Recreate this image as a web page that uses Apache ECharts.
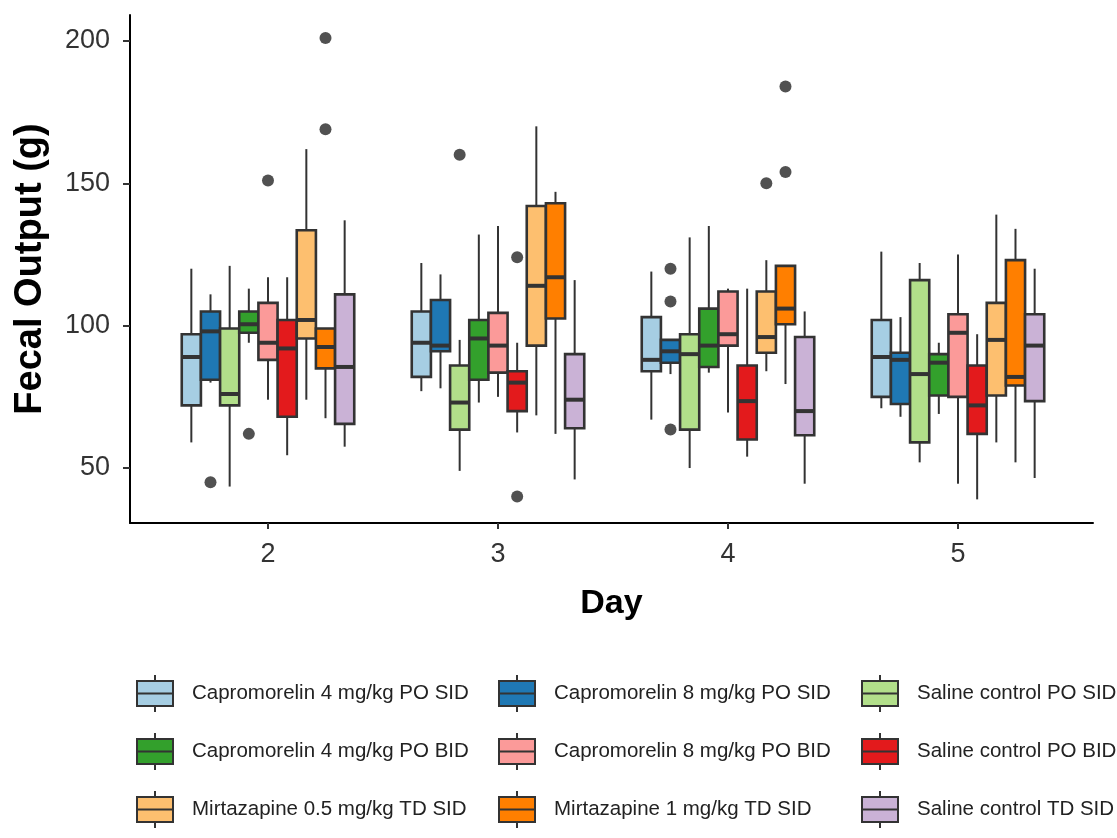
<!DOCTYPE html>
<html>
<head>
<meta charset="utf-8">
<script src="https://cdn.jsdelivr.net/npm/echarts@6/dist/echarts.min.js"></script>
<style>
  html, body { margin: 0; padding: 0; background: #fff; }
  #chart { width: 1117px; height: 838px; }
</style>
</head>
<body>
<div id="chart"></div>
<script>
// ---- Data ----
const days = [2, 3, 4, 5];
const yTicks = [50, 100, 150, 200];

const groupNames = [
  'Capromorelin 4 mg/kg PO SID',
  'Capromorelin 8 mg/kg PO SID',
  'Saline control PO SID',
  'Capromorelin 4 mg/kg PO BID',
  'Capromorelin 8 mg/kg PO BID',
  'Saline control PO BID',
  'Mirtazapine 0.5 mg/kg TD SID',
  'Mirtazapine 1 mg/kg TD SID',
  'Saline control TD SID'
];
const groupColors = ['#A6CEE3', '#1F78B4', '#B2DF8A', '#33A02C', '#FB9A99', '#E31A1C', '#FDBF6F', '#FF7F00', '#CAB2D6'];

// each row: [lower whisker, Q1, median, Q3, upper whisker] for day 2, 3, 4, 5
const capro4SID = [[59, 72, 89, 97, 120], [77, 82, 94, 105, 122], [67, 84, 88, 103, 119], [71, 75, 89, 102, 126]];
const capro8SID = [[80, 81, 98, 105, 111], [78, 91, 93, 109, 118], [83, 87, 91, 95, 95], [68, 72.5, 88, 90.5, 103]];
const salinePOSID = [[43.5, 72, 76, 99, 121], [49, 63.5, 73, 86, 95], [50, 63.5, 90, 97, 131], [52, 59, 83, 116, 122]];
const capro4BID = [[94, 97.5, 100.5, 105, 113], [73, 81, 95.5, 102, 132], [83.5, 85.5, 93, 106, 135], [69, 75.5, 87, 90, 94]];
const capro8BID = [[74, 88, 94, 108, 117], [75, 83.5, 93, 104.5, 135], [69.5, 93, 97, 112, 113], [44.5, 75, 97.5, 104, 125]];
const salinePOBID = [[54.5, 68, 92, 102, 117], [62.5, 70, 80, 84, 94], [54, 60, 73.5, 86, 113], [39, 62, 72, 86, 97]];
const mirt05 = [[74, 95.5, 102, 133.5, 162], [68.5, 93, 114, 142, 170], [84, 90.5, 96, 112, 123], [59, 75.5, 95, 108, 139]];
const mirt1 = [[67.5, 85, 92.5, 99, 99], [62, 102.5, 117, 143, 147], [79.5, 100.5, 106, 121, 121], [52, 79, 82, 123, 134]];
const salineTD = [[57.5, 65.5, 85.5, 111, 137], [46, 64, 74, 90, 116], [44.5, 61.5, 70, 96, 105], [46.5, 73.5, 93, 104, 120]];

// outliers: [day, value]
const out_capro4SID = [];
const out_capro8SID = [[2, 45], [4, 120], [4, 108.5], [4, 63.5]];
const out_salinePOSID = [[3, 160]];
const out_capro4BID = [[2, 62]];
const out_capro8BID = [[2, 151]];
const out_salinePOBID = [[3, 124], [3, 40]];
const out_mirt05 = [[4, 150]];
const out_mirt1 = [[2, 201], [2, 169], [4, 184], [4, 154]];
const out_salineTD = [];

const groupStats = [capro4SID, capro8SID, salinePOSID, capro4BID, capro8BID, salinePOBID, mirt05, mirt1, salineTD];
const groupOutliers = [out_capro4SID, out_capro8SID, out_salinePOSID, out_capro4BID, out_capro8BID, out_salinePOBID, out_mirt05, out_mirt1, out_salineTD];

// ---- Layout (dodge like ggplot: total width 0.75 of a day unit) ----
const nGroups = groupNames.length;
const dodgeWidth = 0.75;
const slot = dodgeWidth / nGroups;
const offsetOf = i => (i - (nGroups - 1) / 2) * slot;
const FONT = "'Liberation Sans', Arial, Helvetica, sans-serif";
const EDGE = '#333333';

const boxSeries = groupNames.map((name, gi) => ({
  name: name,
  type: 'custom',
  itemStyle: { color: groupColors[gi], borderColor: EDGE, borderWidth: 2 },
  data: groupStats[gi].map((s, di) => [days[di]].concat(s)),
  encode: { x: 0, y: [1, 2, 3, 4, 5] },
  renderItem: function (params, api) {
    const x = api.value(0) + offsetOf(gi);
    const lo = api.coord([x, api.value(1)]);
    const q1 = api.coord([x, api.value(2)]);
    const md = api.coord([x, api.value(3)]);
    const q3 = api.coord([x, api.value(4)]);
    const hi = api.coord([x, api.value(5)]);
    const xl = api.coord([x - slot / 2, 0])[0];
    const xr = api.coord([x + slot / 2, 0])[0];
    const cx = lo[0];
    const lineStyle = { stroke: EDGE, lineWidth: 2 };
    return {
      type: 'group',
      children: [
        { type: 'line', shape: { x1: cx, y1: hi[1], x2: cx, y2: q3[1] }, style: lineStyle },
        { type: 'line', shape: { x1: cx, y1: q1[1], x2: cx, y2: lo[1] }, style: lineStyle },
        { type: 'rect', shape: { x: xl, y: q3[1], width: xr - xl, height: q1[1] - q3[1] },
          style: { fill: groupColors[gi], stroke: EDGE, lineWidth: 2.6 } },
        { type: 'line', shape: { x1: xl, y1: md[1], x2: xr, y2: md[1] }, style: { stroke: EDGE, lineWidth: 4 } }
      ]
    };
  },
  z: 2
}));

const outlierSeries = groupNames.map((name, gi) => ({
  name: name,
  type: 'scatter',
  symbol: 'circle',
  symbolSize: 12,
  itemStyle: { color: '#262626' },
  data: groupOutliers[gi].map(p => [p[0] + offsetOf(gi), p[1]]),
  z: 3
}));

const legendIcon = 'path://M18,0L18,6M0,6L36,6L36,31L0,31ZM0,18.5L36,18.5M18,31L18,37M50,0';
function legendCol(indices, left) {
  return {
    orient: 'vertical',
    left: left,
    top: 669,
    itemWidth: 50,
    itemHeight: 37,
    itemGap: 19,
    icon: legendIcon,
    selectedMode: false,
    textStyle: { fontFamily: FONT, fontSize: 20.5, color: '#222' },
    data: indices.map(i => ({
      name: groupNames[i],
      itemStyle: { color: groupColors[i], borderColor: EDGE, borderWidth: 2 }
    }))
  };
}

const chart = echarts.init(document.getElementById('chart'), null, { renderer: 'canvas' });
chart.setOption({
  backgroundColor: '#ffffff',
  animation: false,
  textStyle: { fontFamily: FONT },
  grid: { left: 130, right: 24, top: 15, bottom: 315, containLabel: false },
  legend: [legendCol([0, 3, 6], 131), legendCol([1, 4, 7], 493), legendCol([2, 5, 8], 856)],
  xAxis: {
    type: 'value',
    min: 1.4,
    max: 5.587,
    name: 'Day',
    nameLocation: 'middle',
    nameGap: 64,
    nameTextStyle: { fontFamily: FONT, fontSize: 34, fontWeight: 'bold', color: '#000' },
    axisLine: { show: true, lineStyle: { color: '#000', width: 2 } },
    axisTick: { show: true, customValues: days, length: 6, lineStyle: { color: '#333', width: 2 } },
    axisLabel: { customValues: days, margin: 18, fontFamily: FONT, fontSize: 27, color: '#333' },
    splitLine: { show: false }
  },
  yAxis: {
    type: 'value',
    min: 30.7,
    max: 209.1,
    name: 'Fecal Output (g)',
    nameLocation: 'middle',
    nameGap: 80,
    nameTextStyle: { fontFamily: FONT, fontSize: 38, fontWeight: 'bold', color: '#000' },
    axisLine: { show: true, lineStyle: { color: '#000', width: 2 } },
    axisTick: { show: true, customValues: yTicks, length: 7, lineStyle: { color: '#333', width: 2 } },
    axisLabel: { customValues: yTicks, margin: 20, fontFamily: FONT, fontSize: 27, color: '#333' },
    splitLine: { show: false }
  },
  series: boxSeries.concat(outlierSeries)
});
</script>
</body>
</html>
